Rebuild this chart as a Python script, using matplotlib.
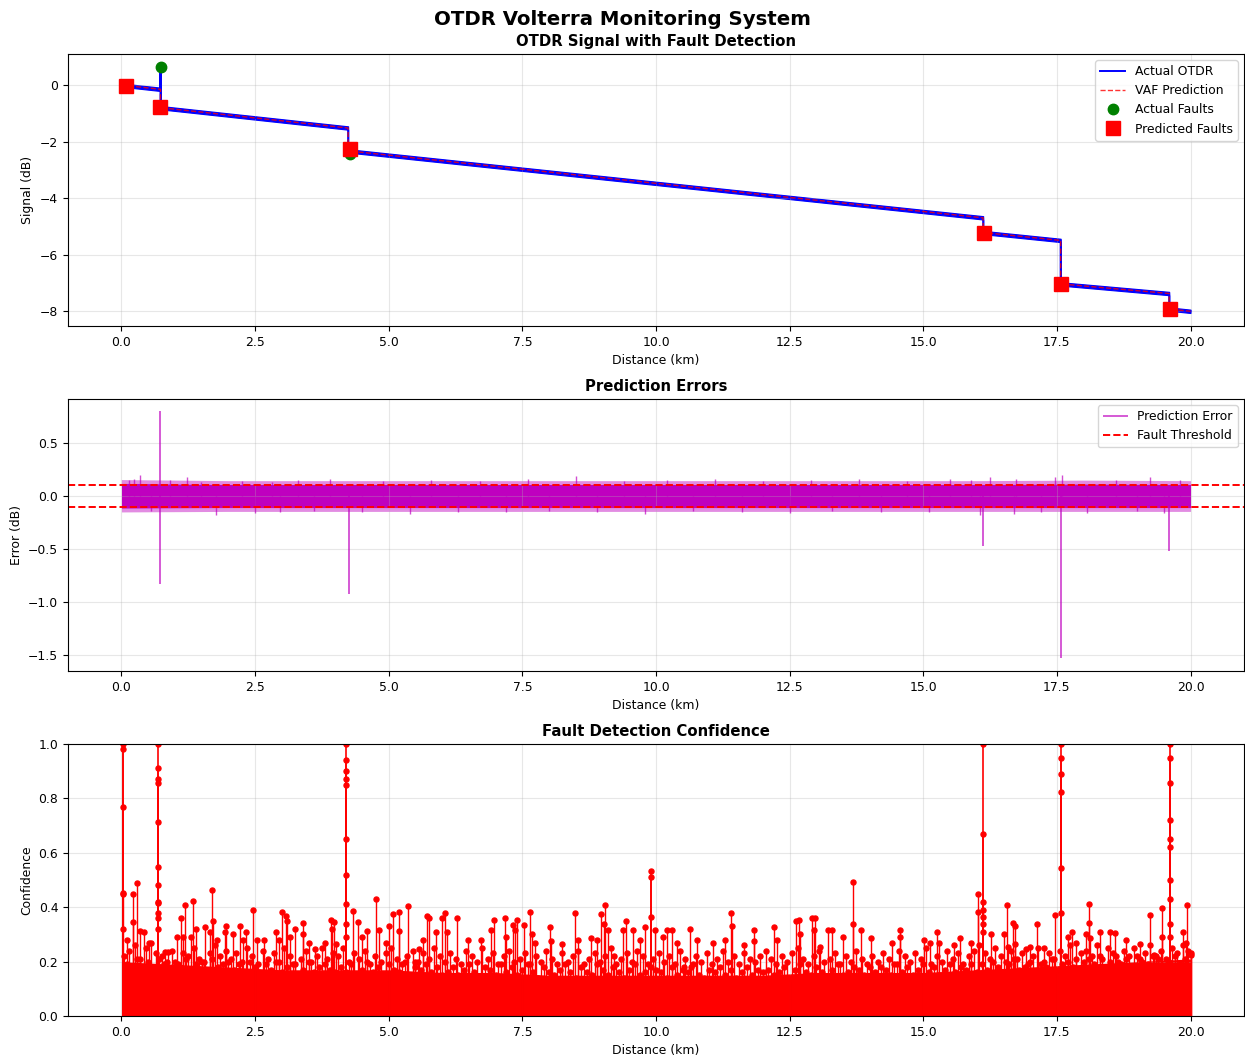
import numpy as np
import matplotlib
matplotlib.use("Agg")
from matplotlib import pyplot as plt

plt.rcParams["font.size"] = 8.9

# ---- top panel: OTDR trace (vertices, km / dB)
trace_km = [0.0, 0.73, 0.73, 0.73, 4.24, 4.24, 16.12, 16.12, 17.57, 17.57, 19.60, 19.60, 20.0]
trace_db = [0.0, -0.15, 0.65, -0.80, -1.52, -2.33, -4.70, -5.22, -5.50, -7.04, -7.38, -7.93, -8.01]
trace_noise = 0.06  # half-width of the noisy trace band

pred_km = [0.0, 0.73, 0.73, 4.24, 4.24, 16.12, 16.12, 17.57, 17.57, 19.60, 19.60, 20.0]
pred_db = [0.0, -0.15, -0.80, -1.52, -2.33, -4.70, -5.22, -5.50, -7.04, -7.38, -7.93, -8.01]

actual_fault_km = [0.74, 4.27]
actual_fault_db = [0.65, -2.45]
pred_fault_km = [0.09, 0.73, 4.27, 16.13, 17.58, 19.62]
pred_fault_db = [-0.03, -0.78, -2.27, -5.24, -7.06, -7.94]

# ---- middle panel: prediction error
band_km = [0, 2, 4, 6, 8, 10, 12, 14, 16, 18, 20]
band_hi = [0.12, 0.11, 0.11, 0.11, 0.11, 0.11, 0.11, 0.11, 0.11, 0.115, 0.11]
band_lo = [-0.115, -0.11, -0.11, -0.11, -0.11, -0.11, -0.11, -0.11, -0.11, -0.11, -0.11]
fringe = 0.035  # lighter fuzzy edge of the noise band
err_fault_km = [0.72, 0.72, 4.25, 16.12, 17.57, 19.60]
err_fault_val = [0.80, -0.83, -0.92, -0.47, -1.53, -0.52]
err_tick_km = [0.15, 0.23, 0.34, 0.55, 0.90, 1.23, 1.49, 1.76, 2.26, 2.50, 2.82, 2.97,
               3.30, 3.60, 3.90, 4.50, 4.90, 5.39, 5.80, 6.30, 6.70, 7.20, 7.60, 8.00,
               8.50, 8.90, 9.40, 9.80, 10.20, 10.70, 11.10, 11.60, 12.00, 12.50, 12.90,
               13.30, 13.80, 14.20, 14.70, 15.10, 15.50, 15.90, 16.07, 16.25, 16.70,
               16.74, 17.20, 17.47, 17.60, 18.07, 18.60, 19.00, 19.24, 19.50, 19.80]
err_tick_val = [0.15, 0.165, 0.198, -0.14, 0.15, 0.18, 0.13, -0.18, 0.14, -0.16, 0.13, -0.15,
                0.15, -0.14, 0.16, -0.15, 0.14, -0.17, 0.15, -0.15, 0.14, -0.15, 0.16, -0.14,
                0.19, -0.15, 0.14, -0.17, 0.15, -0.14, 0.16, -0.15, 0.14, -0.16, 0.15,
                -0.14, 0.16, -0.15, 0.14, -0.15, 0.16, 0.15, -0.18, 0.176, -0.17,
                0.16, -0.15, 0.176, 0.20, -0.16, 0.15, -0.14, 0.18, -0.16, 0.15]
threshold = 0.1

# ---- bottom panel: fault detection confidence
base_km = list(range(0, 21))
base_top = [0.20, 0.19, 0.18, 0.17, 0.17, 0.17, 0.16, 0.16, 0.15, 0.15, 0.15,
            0.15, 0.15, 0.16, 0.16, 0.16, 0.17, 0.18, 0.19, 0.20, 0.21]

mid_km = np.arange(0.05, 20.0, 0.1)
mid_conf = [0.22, 0.24, 0.26, 0.21, 0.25, 0.27, 0.23, 0.22, 0.20, 0.24, 0.19, 0.23, 0.22, 0.25, 0.21, 0.20, 0.23, 0.26, 0.22, 0.24,
            0.21, 0.23, 0.20, 0.25, 0.22, 0.19, 0.24, 0.21, 0.23, 0.20, 0.25, 0.22, 0.19, 0.21, 0.24, 0.20, 0.22, 0.25, 0.21, 0.23,
            0.22, 0.25, 0.20, 0.23, 0.21, 0.24, 0.19, 0.22, 0.20, 0.23, 0.25, 0.21, 0.19, 0.22, 0.24, 0.20, 0.23, 0.21, 0.25, 0.22,
            0.20, 0.23, 0.21, 0.19, 0.24, 0.22, 0.20, 0.25, 0.21, 0.23, 0.19, 0.22, 0.24, 0.20, 0.21, 0.23, 0.19, 0.22, 0.20, 0.24,
            0.21, 0.19, 0.23, 0.20, 0.22, 0.24, 0.19, 0.21, 0.23, 0.20, 0.22, 0.25, 0.19, 0.21, 0.23, 0.20, 0.24, 0.22, 0.19, 0.21,
            0.23, 0.20, 0.22, 0.19, 0.24, 0.21, 0.18, 0.22, 0.20, 0.23, 0.19, 0.21, 0.24, 0.20, 0.22, 0.19, 0.23, 0.21, 0.20, 0.22,
            0.24, 0.21, 0.19, 0.22, 0.20, 0.23, 0.25, 0.21, 0.19, 0.22, 0.24, 0.20, 0.21, 0.23, 0.19, 0.22, 0.20, 0.24, 0.21, 0.19,
            0.22, 0.20, 0.23, 0.21, 0.19, 0.24, 0.22, 0.20, 0.23, 0.21, 0.25, 0.19, 0.22, 0.20, 0.24, 0.21, 0.23, 0.19, 0.22, 0.24,
            0.26, 0.23, 0.21, 0.25, 0.22, 0.20, 0.24, 0.21, 0.23, 0.19, 0.22, 0.25, 0.20, 0.23, 0.21, 0.24, 0.22, 0.26, 0.21, 0.23,
            0.24, 0.22, 0.26, 0.21, 0.25, 0.23, 0.20, 0.24, 0.22, 0.25, 0.21, 0.23, 0.26, 0.22, 0.24, 0.21, 0.25, 0.23, 0.26, 0.24]

low_km = np.arange(0.1, 20.05, 0.1)
low_conf = [0.19, 0.17, 0.21, 0.18, 0.20, 0.16, 0.21, 0.19, 0.17, 0.20, 0.18, 0.21, 0.16, 0.19, 0.20, 0.17, 0.21, 0.18, 0.19, 0.20,
            0.17, 0.19, 0.16, 0.20, 0.18, 0.15, 0.19, 0.17, 0.20, 0.16, 0.18, 0.19, 0.15, 0.17, 0.20, 0.16, 0.18, 0.19, 0.17, 0.16,
            0.18, 0.16, 0.19, 0.15, 0.17, 0.20, 0.16, 0.18, 0.15, 0.19, 0.17, 0.16, 0.20, 0.15, 0.18, 0.17, 0.19, 0.16, 0.18, 0.15,
            0.16, 0.18, 0.15, 0.17, 0.19, 0.16, 0.14, 0.18, 0.17, 0.15, 0.19, 0.16, 0.18, 0.15, 0.17, 0.19, 0.16, 0.14, 0.18, 0.16,
            0.15, 0.17, 0.19, 0.16, 0.14, 0.18, 0.16, 0.15, 0.19, 0.17, 0.15, 0.18, 0.16, 0.14, 0.17, 0.19, 0.15, 0.16, 0.18, 0.17,
            0.16, 0.14, 0.18, 0.15, 0.17, 0.16, 0.19, 0.15, 0.14, 0.17, 0.16, 0.18, 0.15, 0.17, 0.14, 0.16, 0.18, 0.15, 0.17, 0.16,
            0.17, 0.15, 0.16, 0.18, 0.14, 0.17, 0.19, 0.16, 0.15, 0.18, 0.16, 0.14, 0.17, 0.19, 0.15, 0.16, 0.18, 0.17, 0.15, 0.18,
            0.16, 0.18, 0.17, 0.15, 0.19, 0.16, 0.18, 0.15, 0.17, 0.19, 0.16, 0.18, 0.15, 0.17, 0.19, 0.16, 0.18, 0.17, 0.19, 0.16,
            0.19, 0.17, 0.20, 0.18, 0.16, 0.19, 0.21, 0.17, 0.18, 0.20, 0.16, 0.19, 0.18, 0.21, 0.17, 0.19, 0.20, 0.18, 0.16, 0.20,
            0.21, 0.19, 0.22, 0.18, 0.20, 0.22, 0.19, 0.21, 0.18, 0.22, 0.20, 0.19, 0.22, 0.21, 0.18, 0.20, 0.22, 0.19, 0.21, 0.23]

peak_km = [0.03, 0.11, 0.21, 0.21, 0.29, 0.34, 0.42, 0.51, 0.82, 0.87, 1.04, 1.12, 1.15, 1.19,
           1.30, 1.34, 1.40, 1.57, 1.65, 1.70, 1.71, 1.78, 1.93, 1.95, 2.08, 2.21, 2.28, 2.33,
           2.46, 2.54, 2.67, 2.90, 2.94, 3.01, 3.07, 3.10, 3.15, 3.24, 3.40, 3.40, 3.50, 3.63,
           3.80, 3.92, 3.94, 3.98, 4.02, 4.33, 4.42, 4.50, 4.60, 4.77, 4.81, 4.94, 5.01, 5.08,
           5.19, 5.20, 5.36, 5.50, 5.57, 5.65, 5.71, 5.76, 5.89, 6.00, 6.05, 6.09, 6.28, 6.48,
           6.72, 6.92, 6.97, 7.18, 7.19, 7.33, 7.36, 7.40, 7.53, 7.64, 7.68, 7.74, 8.01, 8.03,
           8.25, 8.49, 8.54, 8.78, 8.89, 8.97, 9.02, 9.04, 9.10, 9.22, 9.38, 9.44, 9.57, 9.71,
           9.79, 9.99, 10.13, 10.20, 10.30, 10.40, 10.53, 10.63, 10.76, 11.06, 11.29, 11.40,
           11.42, 11.64, 11.84, 11.84, 12.20, 12.27, 12.61, 12.67, 12.70, 12.92, 12.95, 12.97,
           13.07, 13.21, 13.29, 13.50, 13.69, 13.69, 13.83, 14.03, 14.42, 14.56, 14.57, 15.02,
           15.12, 15.25, 15.29, 15.58, 15.68, 15.90, 16.02, 16.02, 16.27, 16.51, 16.57, 16.58,
           16.68, 16.71, 16.72, 16.92, 17.00, 17.13, 17.25, 17.47, 17.70, 17.78, 17.86, 18.04,
           18.10, 18.10, 18.12, 18.31, 18.50, 18.59, 18.80, 19.06, 19.24, 19.31, 19.47, 19.47,
           19.86, 19.91, 19.93, 20.0]
peak_conf = [0.453, 0.28, 0.45, 0.347, 0.488, 0.314, 0.31, 0.27, 0.236, 0.236, 0.292, 0.359, 0.29, 0.408,
             0.29, 0.424, 0.319, 0.328, 0.31, 0.463, 0.35, 0.28, 0.31, 0.331, 0.30, 0.33, 0.28, 0.31,
             0.39, 0.28, 0.28, 0.31, 0.28, 0.383, 0.368, 0.35, 0.29, 0.32, 0.341, 0.30, 0.27, 0.245,
             0.27, 0.353, 0.32, 0.345, 0.265, 0.387, 0.345, 0.29, 0.314, 0.431, 0.315, 0.27, 0.33, 0.374,
             0.314, 0.383, 0.404, 0.20, 0.245, 0.28, 0.368, 0.36, 0.31, 0.36, 0.377, 0.31, 0.359, 0.28,
             0.28, 0.316, 0.353, 0.359, 0.29, 0.336, 0.316, 0.353, 0.336, 0.381, 0.30, 0.27, 0.328, 0.275,
             0.265, 0.38, 0.28, 0.285, 0.278, 0.375, 0.34, 0.407, 0.316, 0.22, 0.315, 0.349, 0.315, 0.28,
             0.328, 0.316, 0.29, 0.316, 0.316, 0.27, 0.18, 0.32, 0.278, 0.268, 0.28, 0.38,
             0.331, 0.26, 0.315, 0.275, 0.328, 0.28, 0.35, 0.353, 0.30, 0.359, 0.316, 0.359,
             0.255, 0.315, 0.315, 0.29, 0.494, 0.337, 0.316, 0.285, 0.27, 0.316, 0.29, 0.28,
             0.27, 0.307, 0.27, 0.26, 0.285, 0.27, 0.449, 0.383, 0.30, 0.30, 0.407, 0.255,
             0.341, 0.33, 0.265, 0.245, 0.255, 0.338, 0.25, 0.373, 0.29, 0.307, 0.27, 0.30,
             0.413, 0.341, 0.285, 0.307, 0.307, 0.305, 0.28, 0.265, 0.371, 0.225, 0.398, 0.29,
             0.31, 0.27, 0.408, 0.225]

# multiple adjacent samples around each detected event
event_km = [0.02] * 5 + [0.68] * 12 + [4.21] * 10 + [9.91] * 3 + [16.12] * 7 + [17.57] * 6 + [19.61] * 10
event_conf = [1.0, 0.98, 0.77, 0.45, 0.32,
              1.0, 0.91, 0.87, 0.855, 0.715, 0.547, 0.48, 0.42, 0.414, 0.377, 0.36, 0.32,
              1.0, 0.94, 0.90, 0.87, 0.85, 0.65, 0.52, 0.41, 0.34, 0.29,
              0.533, 0.51, 0.363,
              1.0, 0.67, 0.42, 0.39, 0.365, 0.34, 0.31,
              1.0, 0.95, 0.89, 0.825, 0.545, 0.38,
              1.0, 0.95, 0.855, 0.72, 0.65, 0.62, 0.50, 0.43, 0.34, 0.29]

fig = plt.figure(figsize=(12.45, 10.57), dpi=100)
W, H = 1245.0, 1057.0
def box(top, bottom, left=68, right=1244):
    return [left / W, 1 - bottom / H, (right - left) / W, (bottom - top) / H]

ax1 = fig.add_axes(box(54, 326))
ax2 = fig.add_axes(box(399, 671))
ax3 = fig.add_axes(box(744, 1016))

fig.suptitle("OTDR Volterra Monitoring System", fontsize=14.2, fontweight="bold", y=0.991)

# top
tk = np.array(trace_km)
td = np.array(trace_db)
ax1.fill_between(tk, td - trace_noise, td + trace_noise, color="b", lw=0.8)
ax1.plot(trace_km, trace_db, "b-", lw=1.4, label="Actual OTDR")
ax1.plot(pred_km, pred_db, "r--", lw=1, alpha=0.8, label="VAF Prediction")
ax1.plot(actual_fault_km, actual_fault_db, "o", color="green", ms=7.5, ls="none", label="Actual Faults")
ax1.plot(pred_fault_km, pred_fault_db, "s", color="red", ms=9.5, ls="none", label="Predicted Faults")
ax1.set_xlim(-1, 21)
ax1.set_ylim(-8.53, 1.10)
ax1.set_xlabel("Distance (km)")
ax1.set_ylabel("Signal (dB)")
ax1.set_title("OTDR Signal with Fault Detection", fontsize=10.7, fontweight="bold")
ax1.legend(loc="upper right")
ax1.grid(True, alpha=0.3)

# middle
bh = np.array(band_hi)
bl = np.array(band_lo)
ax2.fill_between(band_km, bh, bh + fringe, color="m", alpha=0.45, lw=0)
ax2.fill_between(band_km, bl - fringe, bl, color="m", alpha=0.45, lw=0)
ax2.fill_between(band_km, bl, bh, color="m", lw=0)
ax2.vlines(err_tick_km, 0, err_tick_val, color="m", lw=1, alpha=0.7)
ax2.vlines(err_fault_km, 0, err_fault_val, color="m", lw=1.3, alpha=0.7, label="Prediction Error")
ax2.axhline(threshold, color="r", ls="--", lw=1.4, label="Fault Threshold")
ax2.axhline(-threshold, color="r", ls="--", lw=1.4)
ax2.set_xlim(-1, 21)
ax2.set_ylim(-1.65, 0.915)
ax2.set_xlabel("Distance (km)")
ax2.set_ylabel("Error (dB)")
ax2.set_title("Prediction Errors", fontsize=10.7, fontweight="bold")
ax2.legend(loc="upper right")
ax2.grid(True, alpha=0.3)

# bottom
ax3.fill_between(base_km, 0, base_top, color="r", lw=0)
ax3.vlines(low_km, 0, low_conf, color="r", lw=1)
ax3.plot(low_km, low_conf, "o", color="r", ms=3.6)
ax3.vlines(mid_km, 0, mid_conf, color="r", lw=1)
ax3.plot(mid_km, mid_conf, "o", color="r", ms=3.6)
ax3.vlines(peak_km, 0, peak_conf, color="r", lw=1)
ax3.plot(peak_km, peak_conf, "o", color="r", ms=3.6)
ax3.vlines(event_km, 0, event_conf, color="r", lw=1.2)
ax3.plot(event_km, event_conf, "o", color="r", ms=3.6)
ax3.set_xlim(-1, 21)
ax3.set_ylim(0, 1)
ax3.set_xlabel("Distance (km)")
ax3.set_ylabel("Confidence")
ax3.set_title("Fault Detection Confidence", fontsize=10.7, fontweight="bold")
ax3.grid(True, alpha=0.3)

fig.savefig("out.png", dpi=100)
